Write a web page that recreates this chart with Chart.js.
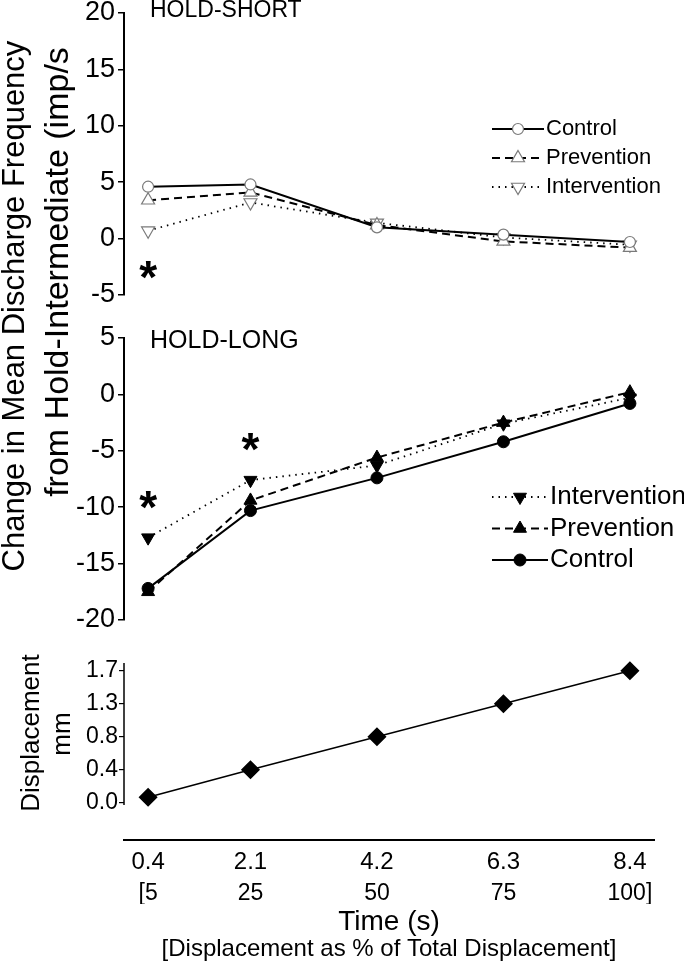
<!DOCTYPE html>
<html>
<head>
<meta charset="utf-8">
<script src="https://cdn.jsdelivr.net/npm/chart.js@4"></script>
<style>
    html, body { margin: 0; padding: 0; background: #fff; }
    #wrap { position: relative; width: 684px; height: 964px; overflow: hidden; font-family: "Liberation Sans", Arial, sans-serif; color: #000; }
    .panel { position: absolute; left: 0; width: 684px; }
    .rot { position: absolute; white-space: nowrap; text-align: center; transform: rotate(-90deg); }
</style>
</head>
<body>
<div id="wrap">
    <div class="panel" style="top:0;height:310px"><canvas id="short" width="684" height="310"></canvas></div>
    <div class="panel" style="top:310px;height:320px"><canvas id="long" width="684" height="320"></canvas></div>
    <div class="panel" style="top:630px;height:334px"><canvas id="disp" width="684" height="334"></canvas></div>
    <div class="rot" style="left:-286px;top:288px;width:600px;height:36px;line-height:36px;font-size:31px">Change in Mean Discharge Frequency</div>
    <div class="rot" style="left:-244px;top:252px;width:600px;height:40px;line-height:40px;font-size:34px">from Hold-Intermediate (imp/s</div>
    <div class="rot" style="left:-120px;top:718px;width:300px;height:30px;line-height:30px;font-size:26px">Displacement</div>
    <div class="rot" style="left:11px;top:719px;width:100px;height:30px;line-height:30px;font-size:26px">mm</div>
</div>
<script>
const FONT = '"Liberation Sans", Arial, sans-serif';

// x positions (time, s) and the bracketed percent row
const times = [0.4, 2.1, 4.2, 6.3, 8.4];
const timeLabels = ['0.4', '2.1', '4.2', '6.3', '8.4'];
const pctLabels = ['[5', '25', '50', '75', '100]'];

// HOLD-SHORT
const shortControl = [4.6, 4.8, 1.0, 0.35, -0.3];
const shortPrevention = [3.4, 4.1, 1.2, -0.25, -0.8];
const shortIntervention = [0.7, 3.2, 1.4, 0.1, -0.55];
const shortStars = [[0.4, -2.75]];

// HOLD-LONG
const longControl = [-17.2, -10.3, -7.4, -4.2, -0.8];
const longPrevention = [-17.5, -9.4, -5.6, -2.5, 0.2];
const longIntervention = [-12.7, -7.6, -6.3, -2.6, -0.3];
const longStars = [[0.4, -9.4], [2.1, -4.25]];

// displacement (mm)
const displacement = [0.07, 0.425, 0.85, 1.275, 1.7];
const dispTicks = [0, 0.425, 0.85, 1.275, 1.7];
const dispTickLabels = ['0.0', '0.4', '0.8', '1.3', '1.7'];

Chart.defaults.font.family = FONT;
Chart.defaults.color = '#000';
Chart.defaults.animation = false;

function pts(ys) {
    return times.map((t, i) => ({x: t, y: ys[i]}));
}

function serie(label, ys, dash, style, rot, radius, open) {
    return {
        label: label,
        data: pts(ys),
        borderColor: '#000',
        borderWidth: dash.length && dash[0] < 3 ? 1.8 : 2,
        borderDash: dash,
        pointStyle: style,
        pointRotation: rot,
        pointRadius: radius,
        pointBorderWidth: open ? 1.2 : 1,
        pointBorderColor: open ? '#7a7a7a' : '#000',
        pointBackgroundColor: open ? '#fff' : '#000',
        tension: 0,
        clip: false
    };
}

// title, asterisks, custom legend (line + marker + text)
const panelDecor = {
    id: 'panelDecor',
    afterDatasetsDraw(chart, args, opts) {
        const ctx = chart.ctx;
        const xs = chart.scales.x;
        const ys = chart.scales.y;
        ctx.save();
        ctx.fillStyle = '#000';
        if (opts.title) {
            ctx.font = opts.titleSize + 'px ' + FONT;
            ctx.textAlign = 'left';
            ctx.textBaseline = 'middle';
            ctx.fillText(opts.title, opts.titleX, opts.titleY);
        }
        if (opts.stars) {
            ctx.font = 'bold ' + opts.starSize + 'px ' + FONT;
            ctx.textAlign = 'center';
            ctx.textBaseline = 'alphabetic';
            const m = ctx.measureText('*');
            opts.stars.forEach(s => {
                const px = xs.getPixelForValue(s[0]);
                const py = ys.getPixelForValue(s[1]) + (m.actualBoundingBoxAscent - m.actualBoundingBoxDescent) / 2;
                ctx.fillText('*', px, py);
            });
        }
        if (opts.legend) {
            const L = opts.legend;
            L.order.forEach((di, row) => {
                const ds = chart.data.datasets[di];
                const y = L.y + row * L.dy;
                ctx.save();
                ctx.strokeStyle = ds.borderColor;
                ctx.lineWidth = ds.borderWidth;
                ctx.setLineDash(ds.borderDash || []);
                ctx.beginPath();
                ctx.moveTo(L.x0, y);
                ctx.lineTo(L.x1, y);
                ctx.stroke();
                ctx.setLineDash([]);
                ctx.fillStyle = ds.pointBackgroundColor;
                ctx.strokeStyle = ds.pointBorderColor;
                ctx.lineWidth = ds.pointBorderWidth;
                Chart.helpers.drawPoint(ctx, {
                    pointStyle: ds.pointStyle,
                    rotation: ds.pointRotation,
                    radius: ds.pointRadius,
                    borderWidth: ds.pointBorderWidth
                }, (L.x0 + L.x1) / 2, y);
                ctx.restore();
                ctx.fillStyle = '#000';
                ctx.font = L.size + 'px ' + FONT;
                ctx.textAlign = 'left';
                ctx.textBaseline = 'middle';
                ctx.fillText(ds.label, L.textX, y);
            });
        }
        if (opts.axisTo !== undefined) {
            ctx.strokeStyle = '#000';
            ctx.lineWidth = 1.5;
            ctx.beginPath();
            ctx.moveTo(chart.chartArea.left, chart.chartArea.top);
            ctx.lineTo(chart.chartArea.left, ys.getPixelForValue(opts.axisTo));
            ctx.stroke();
        }
        ctx.restore();
    }
};

// fixed width, and no extra room reserved for the end tick labels
function fixY(s) {
    s.width = 124;
    s.paddingTop = 0;
    s.paddingBottom = 0;
}

function yAxis(min, max, size) {
    return {
        min: min,
        max: max,
        ticks: {stepSize: 5, color: '#000', font: {size: size}, padding: 3},
        grid: {drawOnChartArea: false, color: '#000', lineWidth: 1.5, tickLength: 6},
        border: {color: '#000', width: 2},
        afterFit: fixY
    };
}

const hiddenX = {type: 'linear', min: 0, max: 8.8, display: false};

// extra bottom axes that only carry a label row or a title
function bottomAxis(weight, height, extra) {
    return Object.assign({
        type: 'linear', position: 'bottom', min: 0, max: 8.8, weight: weight,
        afterBuildTicks: s => { s.ticks = times.map(v => ({value: v})); },
        afterFit: s => { s.height = height; },
        grid: {display: false, drawTicks: false},
        border: {display: false}
    }, extra);
}

new Chart(document.getElementById('short'), {
    type: 'line',
    data: {
        datasets: [
            serie('Control', shortControl, [], 'circle', 0, 5.5, true),
            serie('Prevention', shortPrevention, [8, 5], 'triangle', 0, 7.5, true),
            serie('Intervention', shortIntervention, [1.5, 5], 'triangle', 180, 7.5, true)
        ]
    },
    options: {
        responsive: false,
        layout: {padding: {top: 13, bottom: 15, left: 0, right: 30}},
        scales: {x: hiddenX, y: yAxis(-5, 20, 27)},
        plugins: {
            legend: {display: false},
            tooltip: {enabled: false},
            panelDecor: {
                title: 'HOLD-SHORT', titleX: 150, titleY: 11, titleSize: 23,
                stars: shortStars, starSize: 46,
                legend: {order: [0, 1, 2], x0: 492, x1: 544, textX: 546, y: 129, dy: 29, size: 22}
            }
        }
    },
    plugins: [panelDecor]
});

new Chart(document.getElementById('long'), {
    type: 'line',
    data: {
        datasets: [
            serie('Control', longControl, [], 'circle', 0, 6, false),
            serie('Prevention', longPrevention, [8, 5], 'triangle', 0, 7.5, false),
            serie('Intervention', longIntervention, [1.5, 5], 'triangle', 180, 7.5, false)
        ]
    },
    options: {
        responsive: false,
        layout: {padding: {top: 28, bottom: 10, left: 0, right: 30}},
        scales: {x: hiddenX, y: yAxis(-20, 5, 27)},
        plugins: {
            legend: {display: false},
            tooltip: {enabled: false},
            panelDecor: {
                title: 'HOLD-LONG', titleX: 150, titleY: 31, titleSize: 25,
                stars: longStars, starSize: 46,
                legend: {order: [2, 1, 0], x0: 492, x1: 548, textX: 550, y: 187, dy: 31.5, size: 26}
            }
        }
    },
    plugins: [panelDecor]
});

new Chart(document.getElementById('disp'), {
    type: 'line',
    data: {
        datasets: [{
            label: 'Displacement',
            data: pts(displacement),
            borderColor: '#000',
            borderWidth: 1.5,
            pointStyle: 'rectRot',
            pointRadius: 8.5,
            pointBackgroundColor: '#000',
            pointBorderColor: '#000',
            tension: 0,
            clip: false
        }]
    },
    options: {
        responsive: false,
        layout: {padding: {top: 33, bottom: 0, left: 0, right: 30}},
        scales: {
            x: bottomAxis(0, 36, {
                ticks: {callback: (v, i) => timeLabels[i], font: {size: 24}, padding: 8, maxRotation: 0, autoSkip: false},
                border: {display: true, color: '#000', width: 2}
            }),
            x2: bottomAxis(1, 28, {
                ticks: {callback: (v, i) => pctLabels[i], font: {size: 23}, padding: 4, maxRotation: 0, autoSkip: false}
            }),
            x3: bottomAxis(2, 34, {
                ticks: {display: false},
                title: {display: true, text: 'Time (s)', font: {size: 28, lineHeight: 1.0}, padding: {top: 0, bottom: 2}}
            }),
            x4: bottomAxis(3, 26, {
                ticks: {display: false},
                title: {display: true, text: '[Displacement as % of Total Displacement]', font: {size: 24, lineHeight: 1.2}, padding: 0}
            }),
            y: {
                min: -0.48, max: 1.8,
                afterBuildTicks: s => { s.ticks = dispTicks.map(v => ({value: v})); },
                afterFit: fixY,
                ticks: {callback: (v, i) => dispTickLabels[i], font: {size: 23}, padding: 1, color: '#000'},
                grid: {drawOnChartArea: false, color: '#000', lineWidth: 1.2, tickLength: 5},
                border: {display: false}
            }
        },
        plugins: {
            legend: {display: false},
            tooltip: {enabled: false},
            panelDecor: {axisTo: -0.03}
        }
    },
    plugins: [panelDecor]
});
</script>
</body>
</html>
